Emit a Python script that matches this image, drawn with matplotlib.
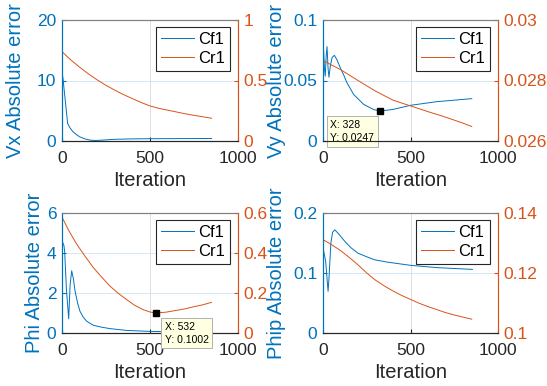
import numpy as np
import matplotlib.pyplot as plt

plt.rcParams['font.family'] = ['Liberation Sans', 'DejaVu Sans']

BLUE = '#0072BD'
ORANGE = '#D95319'
DARK = '#262626'

# Vx panel
vx_cf1_x = [0, 5, 32, 45, 60, 80, 100, 130, 160, 190, 230, 300, 400, 500, 700, 850]
vx_cf1_y = [11.2, 10.5, 2.9, 2.2, 1.6, 1.1, 0.7, 0.35, 0.15, 0.08, 0.15, 0.28, 0.35, 0.38, 0.4, 0.42]
vx_cr1_x = [0, 50, 100, 150, 200, 250, 300, 350, 400, 450, 500, 550, 600, 650, 700, 750, 800, 850]
vx_cr1_y = [0.738, 0.67, 0.61, 0.555, 0.505, 0.46, 0.42, 0.383, 0.35, 0.318, 0.29, 0.27,
            0.255, 0.24, 0.225, 0.212, 0.2, 0.188]

# Vy panel
vy_cf1_x = [0, 2, 8, 13, 18, 23, 29, 34, 42, 52, 65, 80, 99, 120, 137, 175, 232, 289, 328,
            403, 500, 650, 850]
vy_cf1_y = [0.082, 0.0795, 0.06, 0.0536, 0.07, 0.078, 0.06, 0.0527, 0.062, 0.069, 0.0708,
            0.067, 0.0604, 0.054, 0.0481, 0.0385, 0.0303, 0.026, 0.0247, 0.0262, 0.0295,
            0.0325, 0.035]
vy_cr1_x = [0, 100, 200, 300, 400, 500, 600, 700, 800, 850]
vy_cr1_y = [0.02866, 0.02836, 0.02800, 0.02765, 0.02735, 0.02716, 0.02697, 0.02679,
            0.02659, 0.02648]

# Phi panel
phi_cf1_x = [0, 11, 15, 25, 38, 46, 55, 65, 74, 90, 102, 120, 140, 177, 220, 272, 366,
             500, 650, 850]
phi_cf1_y = [4.62, 4.37, 4.1, 2.2, 0.71, 2.4, 3.11, 2.7, 2.1, 1.45, 1.09, 0.8, 0.59, 0.39,
             0.3, 0.22, 0.13, 0.08, 0.06, 0.05]
phi_cr1_x = [0, 36, 83, 130, 177, 225, 272, 320, 366, 410, 460, 500, 532, 590, 649, 700,
             743, 800, 849]
phi_cr1_y = [0.58, 0.516, 0.445, 0.385, 0.328, 0.28, 0.235, 0.198, 0.168, 0.14, 0.117,
             0.105, 0.1002, 0.104, 0.113, 0.121, 0.13, 0.141, 0.153]

# Phip panel
phip_cf1_x = [0, 15, 29, 34, 45, 55, 67, 90, 124, 160, 200, 250, 295, 371, 500, 650, 854]
phip_cf1_y = [0.142, 0.12, 0.0695, 0.09, 0.15, 0.168, 0.172, 0.165, 0.153, 0.142, 0.133,
              0.127, 0.122, 0.118, 0.1128, 0.109, 0.106]
phip_cr1_x = [0, 50, 100, 150, 200, 250, 300, 350, 400, 450, 500, 550, 600, 650, 700, 750,
              800, 850]
phip_cr1_y = [0.1311, 0.1294, 0.1275, 0.1252, 0.1227, 0.1200, 0.1176, 0.1157, 0.1140,
              0.1125, 0.1112, 0.1099, 0.1088, 0.1078, 0.1068, 0.1060, 0.1053, 0.1046]

panels = [
    ('Vx Absolute error', vx_cf1_x, vx_cf1_y, vx_cr1_x, vx_cr1_y,
     (0, 20), [0, 10, 20], ['0', '10', '20'], (0, 1), [0, 0.5, 1], ['0', '0.5', '1']),
    ('Vy Absolute error', vy_cf1_x, vy_cf1_y, vy_cr1_x, vy_cr1_y,
     (0, 0.1), [0, 0.05, 0.1], ['0', '0.05', '0.1'], (0.026, 0.03), [0.026, 0.028, 0.03],
     ['0.026', '0.028', '0.03']),
    ('Phi Absolute error', phi_cf1_x, phi_cf1_y, phi_cr1_x, phi_cr1_y,
     (0, 6), [0, 2, 4, 6], ['0', '2', '4', '6'], (0, 0.6), [0, 0.2, 0.4, 0.6],
     ['0', '0.2', '0.4', '0.6']),
    ('Phip Absolute error', phip_cf1_x, phip_cf1_y, phip_cr1_x, phip_cr1_y,
     (0, 0.2), [0, 0.1, 0.2], ['0', '0.1', '0.2'], (0.1, 0.14), [0.1, 0.12, 0.14],
     ['0.1', '0.12', '0.14']),
]

positions = [
    [62 / 547, 1 - 141 / 386, 176 / 547, 121 / 386],
    [323 / 547, 1 - 141 / 386, 175 / 547, 121 / 386],
    [62 / 547, 1 - 333 / 386, 176 / 547, 120 / 386],
    [323 / 547, 1 - 333 / 386, 175 / 547, 120 / 386],
]
# y-label centre, in axes fraction
label_x = [-0.264, -0.263, -0.156, -0.263]

fig = plt.figure(figsize=(5.47, 3.86), dpi=100)
axes = []
for pos, lx, p in zip(positions, label_x, panels):
    label, cx, cy, rx, ry, lylim, lyt, lytl, rylim, ryt, rytl = p
    ax = fig.add_axes(pos)
    ax2 = ax.twinx()
    l1, = ax.plot(cx, cy, color=BLUE, lw=0.7, label='Cf1')
    l2, = ax2.plot(rx, ry, color=ORANGE, lw=0.7, label='Cr1')
    ax.set_xlim(0, 1000)
    ax.set_xticks([0, 500, 1000])
    ax.set_ylim(*lylim)
    ax.set_yticks(lyt)
    ax.set_yticklabels(lytl)
    ax2.set_ylim(*rylim)
    ax2.set_yticks(ryt)
    ax2.set_yticklabels(rytl)

    ax.xaxis.grid(True, color='#dedede', lw=0.7)
    ax.yaxis.grid(True, color='#d6e8f5', lw=0.7)
    ax.set_axisbelow(True)

    ax.tick_params(axis='x', direction='in', length=3, labelsize=12.5, colors=DARK, pad=7)
    ax.tick_params(axis='y', direction='in', length=3, labelsize=12.5, colors=BLUE, pad=4)
    ax2.tick_params(axis='y', direction='in', length=3, labelsize=12.5, colors=ORANGE, pad=4)

    for a in (ax, ax2):
        a.spines['top'].set_color('#808080')
        a.spines['bottom'].set_color(DARK)
        a.spines['left'].set_color(BLUE)
        a.spines['right'].set_color(ORANGE)
        for s in a.spines.values():
            s.set_linewidth(0.8)

    ax.set_xlabel('Iteration', fontsize=14.5, color=DARK, labelpad=4)
    ax.set_ylabel(label, fontsize=14.5, color=BLUE, va='center')
    ax.yaxis.set_label_coords(lx, 0.5)

    leg = ax2.legend([l1, l2], ['Cf1', 'Cr1'], loc='upper right',
                     bbox_to_anchor=(0.955, 0.945), borderaxespad=0, fontsize=12,
                     handlelength=2.0, handletextpad=0.25, borderpad=0.3,
                     labelspacing=0.25, fancybox=False, framealpha=1)
    leg.get_frame().set_edgecolor(DARK)
    leg.get_frame().set_linewidth(0.8)
    axes.append((ax, ax2))

# data tips
tip_style = dict(boxstyle='square,pad=0.35', fc='#FFFFE1', ec='#b0b0b0', lw=0.7)

ax, ax2 = axes[1]
ax.plot([328], [0.0247], marker='s', color='black', ms=5, zorder=5)
ax.annotate('X: 328\nY: 0.0247', xy=(328, 0.0247), xytext=(-50, -9),
            textcoords='offset pixels', ha='left', va='top', fontsize=7.5,
            linespacing=1.35, bbox=tip_style, zorder=6, annotation_clip=False)

ax, ax2 = axes[2]
ax2.plot([532], [0.1002], marker='s', color='black', ms=5, zorder=5)
ax2.annotate('X: 532\nY: 0.1002', xy=(532, 0.1002), xytext=(9, -9),
             textcoords='offset pixels', ha='left', va='top', fontsize=7.5,
             linespacing=1.35, bbox=tip_style, zorder=6, annotation_clip=False)

fig.savefig('out.png', dpi=100)
